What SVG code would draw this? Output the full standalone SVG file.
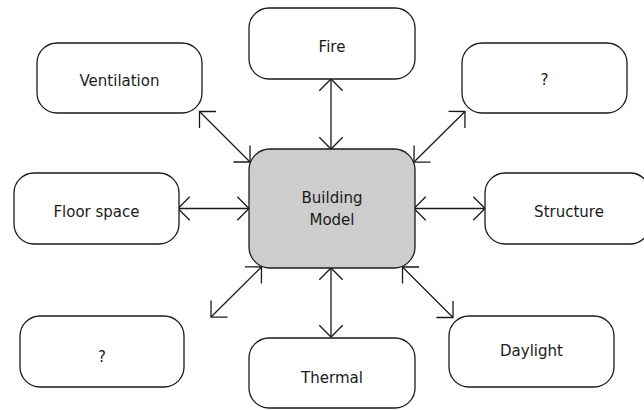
<svg xmlns="http://www.w3.org/2000/svg" width="644" height="410" viewBox="0 0 644 410">
<style>
.box{fill:#fff;stroke:#1a1a1a;stroke-width:1.3}
.main{fill:#cdcdcd;stroke:#1a1a1a;stroke-width:1.3}
.lbl{font-family:"DejaVu Sans",sans-serif;font-size:15px;fill:#1a1a1a;text-anchor:middle}
.con{stroke:#1a1a1a;stroke-width:1.3;fill:none;marker-start:url(#ah);marker-end:url(#ah)}
</style>
<defs>
<marker id="ah" markerUnits="userSpaceOnUse" viewBox="-16 -16 32 32" markerWidth="32" markerHeight="32" refX="0" refY="0" orient="auto-start-reverse" overflow="visible">
<path d="M -11.7 -11.7 L 0 0 L -11.7 11.7" fill="none" stroke="#1a1a1a" stroke-width="1.3"/>
</marker>
</defs>
<rect width="644" height="410" fill="#fff"/>
<g id="connectors">
<line class="con" x1="331" y1="79" x2="331" y2="149"/>
<line class="con" x1="199.5" y1="111.5" x2="250" y2="162"/>
<line class="con" x1="465" y1="111.5" x2="414" y2="162"/>
<line class="con" x1="178" y1="208.5" x2="249" y2="208.5"/>
<line class="con" x1="414" y1="208.5" x2="485" y2="208.5"/>
<line class="con" x1="261.5" y1="267" x2="211" y2="317"/>
<line class="con" x1="331" y1="268" x2="331" y2="337"/>
<line class="con" x1="402.5" y1="267" x2="453" y2="317.5"/>
</g>
<g id="building-model">
<rect class="main" x="249" y="149" width="166" height="119" rx="21"/>
<text class="lbl" x="332" y="203">Building</text>
<text class="lbl" x="332" y="225">Model</text>
</g>
<g id="fire">
<rect class="box" x="249" y="8" width="166" height="71" rx="20"/>
<text class="lbl" x="332" y="52">Fire</text>
</g>
<g id="ventilation">
<rect class="box" x="37" y="43" width="165" height="70" rx="20"/>
<text class="lbl" x="119.5" y="86">Ventilation</text>
</g>
<g id="unknown-top">
<rect class="box" x="462" y="43" width="165" height="70" rx="20"/>
<text class="lbl" x="544.5" y="85">?</text>
</g>
<g id="floor-space">
<rect class="box" x="14" y="173" width="165" height="71" rx="20"/>
<text class="lbl" x="96.5" y="217">Floor space</text>
</g>
<g id="structure">
<rect class="box" x="485" y="173" width="165" height="71" rx="20"/>
<text class="lbl" x="569" y="217">Structure</text>
</g>
<g id="unknown-bottom">
<rect class="box" x="20" y="316" width="164" height="71" rx="20"/>
<text class="lbl" x="102" y="362">?</text>
</g>
<g id="thermal">
<rect class="box" x="249" y="338" width="166" height="70" rx="20"/>
<text class="lbl" x="332" y="383">Thermal</text>
</g>
<g id="daylight">
<rect class="box" x="449" y="316" width="165" height="71" rx="20"/>
<text class="lbl" x="531.5" y="356">Daylight</text>
</g>
</svg>
